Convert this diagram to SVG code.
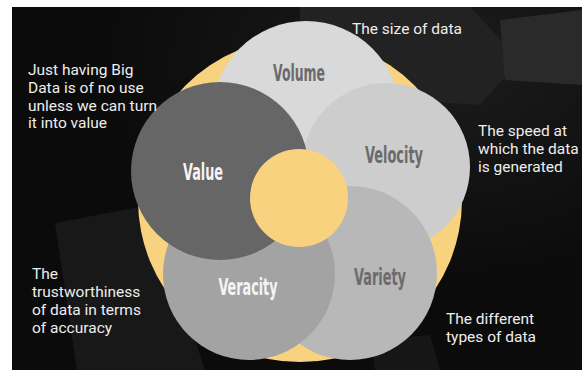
<svg xmlns="http://www.w3.org/2000/svg" width="582" height="370" viewBox="0 0 582 370">
  <defs>
    <style>
      .label { font-family: "Liberation Sans Narrow", "DejaVu Sans Condensed", "DejaVu Sans", sans-serif; font-weight: bold; font-size: 23.5px; text-anchor: middle; }
      .dark { fill: #6b6b6b; }
      .light { fill: #f4f4f4; }
      .note { font-family: Roboto, "Liberation Sans", sans-serif; font-size: 15.5px; fill: #eeeeee; }
      .amber { fill: #f9d27f; }
    </style>
    <radialGradient id="bgShade" cx="0.75" cy="0.15" r="0.6">
      <stop offset="0" stop-color="#1c1c1c"/>
      <stop offset="1" stop-color="#0b0b0b"/>
    </radialGradient>
  </defs>

  <!-- page and dark backdrop -->
  <rect x="0" y="0" width="582" height="370" fill="#ffffff"/>
  <rect x="12" y="7" width="570" height="363" fill="url(#bgShade)"/>

  <!-- faint props in the backdrop -->
  <g id="backdrop-props">
    <polygon points="300,7 470,7 520,60 480,105 330,95 300,60" fill="#222222"/>
    <polygon points="500,20 582,10 582,85 505,80" fill="#2a2a2a"/>
    <polygon points="55,223 150,205 205,370 77,370" fill="#181818"/>
    <polygon points="370,340 430,335 440,370 375,370" fill="#161616"/>
  </g>

  <!-- large amber disc behind the five Vs -->
  <circle id="backdrop-disc" class="amber" cx="300" cy="200" r="162"/>

  <g id="volume">
    <circle cx="306" cy="115" r="94" fill="#d9d9d9"/>
    <text class="label dark" x="299" y="81" textLength="52" lengthAdjust="spacingAndGlyphs">Volume</text>
  </g>

  <g id="velocity">
    <circle cx="386" cy="167" r="84" fill="#cdcdcd"/>
    <text class="label dark" x="394" y="163" textLength="58" lengthAdjust="spacingAndGlyphs">Velocity</text>
  </g>

  <g id="variety">
    <circle cx="350" cy="273" r="87" fill="#b8b8b8"/>
    <text class="label dark" x="380" y="285" textLength="52" lengthAdjust="spacingAndGlyphs">Variety</text>
  </g>

  <g id="veracity">
    <circle cx="249" cy="274" r="86" fill="#a3a3a3"/>
    <text class="label light" x="248" y="295" textLength="59" lengthAdjust="spacingAndGlyphs">Veracity</text>
  </g>

  <g id="value">
    <circle cx="220" cy="171" r="89" fill="#666666"/>
    <text class="label light" x="203" y="180" textLength="40" lengthAdjust="spacingAndGlyphs">Value</text>
  </g>

  <g id="core">
    <circle class="amber" cx="299" cy="198" r="49"/>
  </g>

  <!-- descriptions -->
  <g id="notes">
    <text class="note" x="28" y="75">Just having Big</text>
    <text class="note" x="28" y="92.8">Data is of no use</text>
    <text class="note" x="28" y="110.6">unless we can turn</text>
    <text class="note" x="28" y="128.4">it into value</text>

    <text class="note" x="352" y="34">The size of data</text>

    <text class="note" x="478" y="136">The speed at</text>
    <text class="note" x="478" y="154">which the data</text>
    <text class="note" x="478" y="172">is generated</text>

    <text class="note" x="32" y="279">The</text>
    <text class="note" x="32" y="297">trustworthiness</text>
    <text class="note" x="32" y="315">of data in terms</text>
    <text class="note" x="32" y="333">of accuracy</text>

    <text class="note" x="446" y="324">The different</text>
    <text class="note" x="446" y="342">types of data</text>
  </g>
</svg>
